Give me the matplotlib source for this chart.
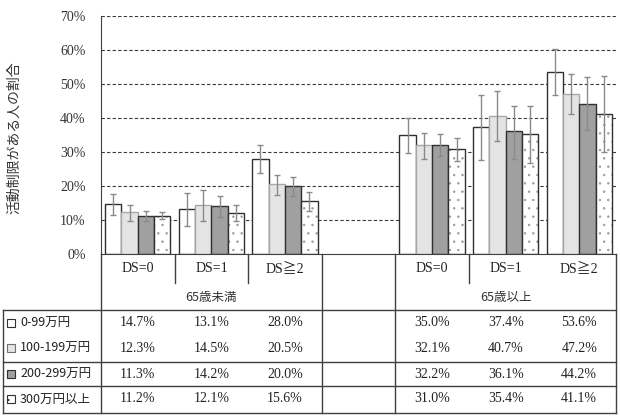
import matplotlib
matplotlib.use("Agg")
import matplotlib.pyplot as plt
import matplotlib.patches as patches
import numpy as np

plt.rcParams['font.family'] = ['Liberation Serif', 'Noto Sans CJK JP']
plt.rcParams['hatch.linewidth'] = 0.5

# datos
ds_labels = ['DS=0', 'DS=1', 'DS≧2', 'DS=0', 'DS=1', 'DS≧2']
age_labels = ['65歳未満', '65歳以上']
income_labels = ['0-99万円', '100-199万円', '200-299万円', '300万円以上']

v0 = [14.7, 13.1, 28.0, 35.0, 37.4, 53.6]
v1 = [12.3, 14.5, 20.5, 32.1, 40.7, 47.2]
v2 = [11.3, 14.2, 20.0, 32.2, 36.1, 44.2]
v3 = [11.2, 12.1, 15.6, 31.0, 35.4, 41.1]

lo0 = [11.5, 8.2, 23.9, 29.8, 27.6, 46.7]
hi0 = [17.6, 17.9, 32.1, 39.9, 46.8, 60.2]
lo1 = [9.7, 9.8, 17.4, 28.0, 33.3, 41.1]
hi1 = [14.4, 18.7, 23.1, 35.7, 47.9, 53.0]
lo2 = [9.7, 10.8, 17.1, 28.8, 28.0, 36.4]
hi2 = [12.7, 17.2, 22.6, 35.4, 43.6, 52.0]
lo3 = [10.2, 9.7, 12.6, 27.4, 26.9, 29.9]
hi3 = [12.3, 14.3, 18.3, 34.0, 43.5, 52.4]

slots = [0, 1, 2, 4, 5, 6]

series = [v0, v1, v2, v3]
lows = [lo0, lo1, lo2, lo3]
highs = [hi0, hi1, hi2, hi3]
faces = ['white', '#e4e4e4', '#a0a0a0', 'white']
edges = ['#303030', '#a8a8a8', '#303030', '#303030']
hatches = [None, None, None, '..']

W, H = 620, 418
fig = plt.figure(figsize=(6.2, 4.18), dpi=100)
x0, x1, y0, y1 = 101, 616, 254, 16
ax = fig.add_axes([x0 / W, 1 - y0 / H, (x1 - x0) / W, (y0 - y1) / H])

bw = 0.222
x = np.array(slots, dtype=float)
for i in range(4):
    pos = x + (i - 1.5) * bw
    vals = np.array(series[i])
    if hatches[i]:
        # puntos grises, luego el borde oscuro encima
        ax.bar(pos, vals, bw, color=faces[i], edgecolor='#9a9a9a', hatch=hatches[i],
               linewidth=0, zorder=2)
        ax.bar(pos, vals, bw, fill=False, edgecolor=edges[i], linewidth=1.0, zorder=2)
    else:
        ax.bar(pos, vals, bw, color=faces[i], edgecolor=edges[i], linewidth=1.0, zorder=2)
    err = [vals - np.array(lows[i]), np.array(highs[i]) - vals]
    ax.errorbar(pos, vals, yerr=err, fmt='none', ecolor='#8a8a8a',
                elinewidth=1.0, capsize=2.2, capthick=1.0, zorder=3)

ax.set_xlim(-0.5, 6.5)
ax.set_ylim(0, 70)
ax.set_yticks(range(0, 71, 10))
ax.set_yticklabels([f'{t}%' for t in range(0, 71, 10)], fontsize=10, color='#333333')
ax.tick_params(axis='y', length=0, pad=11)
ax.set_xticks([])
for t in range(10, 71, 10):
    ax.axhline(t, color='#3a3a3a', linewidth=0.8, linestyle=(0, (3, 2)), zorder=1)
for s in ['top', 'right']:
    ax.spines[s].set_visible(False)
ax.spines['left'].set_color('#404040')
ax.spines['bottom'].set_color('#404040')
ax.set_ylabel('活動制限がある人の割合', fontsize=10, color='#333333',
              family=['Noto Sans CJK JP'])
ax.yaxis.set_label_coords((21 - x0) / (x1 - x0), 0.49)

# tabla
tb = fig.add_axes([0, 0, 1, 1])
tb.set_xlim(0, W)
tb.set_ylim(H, 0)
tb.axis('off')
lc = '#404040'
slot_w = (x1 - x0) / 7.0
centers = [x0 + (s + 0.5) * slot_w for s in slots]

for yy in [310, 362, 386, 413]:
    tb.plot([3, x1], [yy, yy], color=lc, lw=1.0)
tb.plot([3, 3], [310, 413], color=lc, lw=1.0)
for xx in [x0, x0 + 3 * slot_w, x0 + 4 * slot_w, x1]:
    tb.plot([xx, xx], [254, 413], color=lc, lw=1.0)
for xx in [x0 + slot_w, x0 + 2 * slot_w, x0 + 5 * slot_w]:
    tb.plot([xx, xx], [254, 283], color=lc, lw=1.0)

for c, lab in zip(centers, ds_labels):
    tb.text(c, 269, lab, ha='center', va='center', fontsize=10, color='#222222')
tb.text(centers[1], 297, age_labels[0], ha='center', va='center', fontsize=9,
        color='#333333', family=['Noto Sans CJK JP'])
tb.text(centers[4], 297, age_labels[1], ha='center', va='center', fontsize=9,
        color='#333333', family=['Noto Sans CJK JP'])

row_y = [323, 348, 374, 399]
for i in range(4):
    y = row_y[i]
    tb.add_patch(patches.Rectangle((7, y - 4), 8, 8, facecolor=faces[i],
                                   edgecolor=edges[i] if i != 1 else '#707070',
                                   hatch=hatches[i], lw=0.8))
    tb.text(20, y, income_labels[i], ha='left', va='center', fontsize=9,
            color='#222222', family=['Noto Sans CJK JP'])
    for c, v in zip(centers, series[i]):
        tb.text(c, y, f'{v:.1f}%', ha='center', va='center', fontsize=10,
                color='#222222')

fig.savefig('out.png', dpi=100)
